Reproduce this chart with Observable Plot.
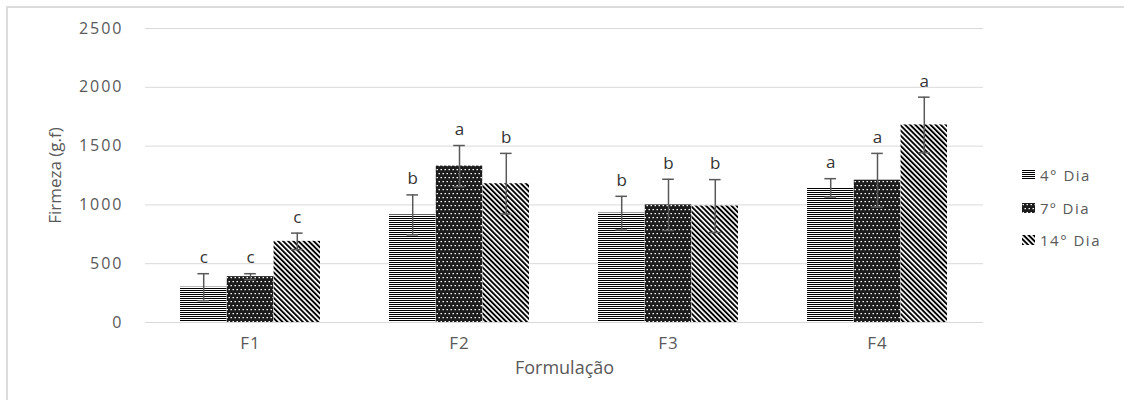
<!DOCTYPE html>
<html>
<head>
<meta charset="utf-8">
<script src="https://cdn.jsdelivr.net/npm/d3@7"></script>
<script src="https://cdn.jsdelivr.net/npm/@observablehq/plot@0.6"></script>
<style>
  body { margin: 0; background: #fff; }
  #wrap { position: relative; width: 1124px; height: 400px; overflow: hidden; font-family: "Open Sans", sans-serif; }
  #border { position: absolute; left: 6px; top: 6px; width: 1300px; height: 600px; border: 2px solid #dcdcdc; box-sizing: border-box; }
  #chart { position: absolute; left: 0; top: 0; }
  #chart svg g[aria-label="y-axis tick label"] text { letter-spacing: 2px; }
  #chart svg g[aria-label="x-axis tick label"] text { letter-spacing: 1px; }
  .leg { position: absolute; left: 1022px; display: flex; align-items: center; font-size: 15px; color: #595959; letter-spacing: 1.5px; }
  .leg svg { margin-right: 5px; }
</style>
</head>
<body>
<svg width="0" height="0" style="position:absolute">
  <defs>
    <pattern id="pat0" width="4" height="2" patternUnits="userSpaceOnUse">
      <rect width="4" height="2" fill="#fff"/>
      <rect width="4" height="1" fill="#000"/>
    </pattern>
    <pattern id="pat1" width="4" height="8" patternUnits="userSpaceOnUse">
      <rect width="4" height="8" fill="#1c1c1c"/>
      <rect x="0.5" y="1" width="1.5" height="1.2" fill="#fff"/>
      <rect x="2.5" y="5" width="1.5" height="1.2" fill="#fff"/>
    </pattern>
    <pattern id="pat2" width="3.6" height="4" patternUnits="userSpaceOnUse" patternTransform="rotate(-45)">
      <rect width="3.6" height="4" fill="#fff"/>
      <rect width="1.9" height="4" fill="#000"/>
    </pattern>
  </defs>
</svg>
<div id="wrap">
  <div id="border"></div>
  <div id="chart"></div>
</div>
<script>
// ---- data ----
const formulations = ["F1", "F2", "F3", "F4"];
const days = ["4° Dia", "7º Dia", "14° Dia"];
const mean4 = [300, 915, 930, 1145];
const sd4 = [115, 170, 143, 78];
const mean7 = [390, 1330, 1000, 1210];
const sd7 = [25, 175, 218, 228];
const mean14 = [690, 1180, 990, 1680];
const sd14 = [70, 258, 225, 236];
const letters4 = ["c", "b", "b", "a"];
const letters7 = ["c", "a", "b", "a"];
const letters14 = ["c", "b", "b", "a"];
const yTicks = [0, 500, 1000, 1500, 2000, 2500];
const yLabel = "Firmeza (g.f)";
const xLabel = "Formulação";

const means = [mean4, mean7, mean14];
const sds = [sd4, sd7, sd14];
const letters = [letters4, letters7, letters14];
const rows = [];
days.forEach((day, j) => formulations.forEach((f, i) => rows.push({
  f, day, j, mean: means[j][i], sd: sds[j][i], letter: letters[j][i]
})));

// ---- layout ----
const W = 1124, H = 400;
const mL = 145, mR = 141, mT = 28, mB = 78;
const pIn = 0.33, pOut = 0.165;
const step = (W - mL - mR) / (formulations.length - pIn + 2 * pOut);
const bw = step * (1 - pIn);
const b3 = bw / 3;
const capW = 12;
const textColor = "#595959";

const marks = [
  Plot.ruleY(yTicks, {y: d => d, stroke: "#d9d9d9", strokeWidth: 1})
];
days.forEach((day, j) => {
  const data = rows.filter(d => d.j === j);
  marks.push(Plot.barY(data, {
    x: "f", y: "mean", fill: `url(#pat${j})`,
    insetLeft: j * b3, insetRight: (2 - j) * b3
  }));
  marks.push(Plot.ruleX(data, {
    x: "f", y1: d => d.mean - d.sd, y2: d => d.mean + d.sd,
    dx: (j - 1) * b3, stroke: textColor, strokeWidth: 1.5
  }));
  marks.push(Plot.tickY(data, {
    x: "f", y: d => d.mean + d.sd, dx: (j - 1) * b3,
    insetLeft: (bw - capW) / 2, insetRight: (bw - capW) / 2,
    stroke: textColor, strokeWidth: 1.5
  }));
  marks.push(Plot.tickY(data, {
    x: "f", y: d => d.mean - d.sd, dx: (j - 1) * b3,
    insetLeft: (bw - capW) / 2, insetRight: (bw - capW) / 2,
    stroke: textColor, strokeWidth: 1.5
  }));
  marks.push(Plot.text(data, {
    x: "f", y: d => d.mean + d.sd, text: "letter",
    dx: (j - 1) * b3, dy: -16, fontSize: 17, fill: "#333"
  }));
});
marks.push(Plot.axisY(yTicks, {tickSize: 0, tickPadding: 22, fontSize: 16, fill: textColor, label: null, tickFormat: d => String(d)}));
marks.push(Plot.axisX({tickSize: 0, tickPadding: 14, fontSize: 17, fill: textColor, label: null}));
marks.push(Plot.text([yLabel], {frameAnchor: "left", textAnchor: "middle", dx: -90, rotate: -90, fontSize: 17, fill: textColor, style: {letterSpacing: "0.5px"}}));
marks.push(Plot.text([xLabel], {frameAnchor: "bottom", dy: 51, fontSize: 18, fill: textColor, style: {letterSpacing: "1.5px"}}));

const chart = Plot.plot({
  width: W, height: H,
  marginLeft: mL, marginRight: mR, marginTop: mT, marginBottom: mB,
  style: {fontFamily: "'Open Sans', sans-serif", background: "transparent", color: textColor},
  x: {domain: formulations, paddingInner: pIn, paddingOuter: pOut, axis: null},
  y: {domain: [0, 2500], axis: null},
  marks
});
document.getElementById("chart").appendChild(chart);

// ---- legend ----
const wrap = document.getElementById("wrap");
const legendTop = [176, 209, 241];
days.forEach((day, j) => {
  const item = document.createElement("div");
  item.className = "leg";
  item.style.top = (legendTop[j] - 11) + "px";
  item.innerHTML = `<svg width="13" height="10"><rect width="13" height="10" fill="url(#pat${j})"/></svg><span></span>`;
  item.querySelector("span").textContent = day;
  wrap.appendChild(item);
});
</script>
</body>
</html>
